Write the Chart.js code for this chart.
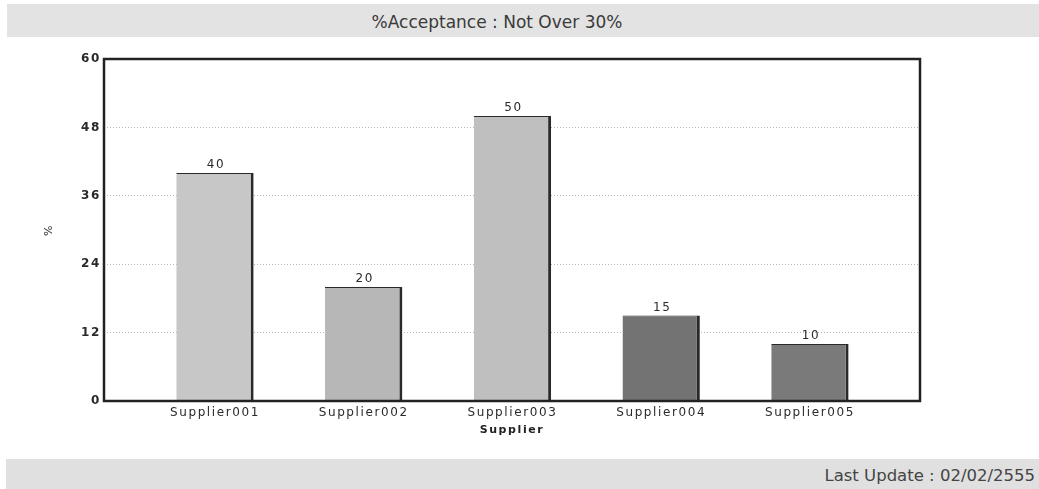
<!DOCTYPE html>
<html>
<head>
<meta charset="utf-8">
<title>%Acceptance : Not Over 30%</title>
<script src="https://cdn.jsdelivr.net/npm/chart.js@4.4.1/dist/chart.umd.min.js"></script>
<style>
  html, body { margin: 0; padding: 0; background: #ffffff; }
  #wrap { position: relative; width: 1039px; height: 489px; overflow: hidden; }
  .band { position: absolute; background: #e3e3e3; }
  #head { left: 7px; top: 4px; right: 0; height: 33px; }
  #foot { left: 6px; top: 459px; right: 0; bottom: 0; background: #e0e0e0; }
  #headText {
    position: absolute; left: 7px; right: 0; top: 4px; height: 33px;
    line-height: 36px; text-align: center; padding-right: 52px;
    font-family: "DejaVu Sans", sans-serif;
    font-size: 17px; color: #3a3a3a;
  }
  #footText {
    position: absolute; right: 4px; top: 459px; height: 30px; line-height: 34px;
    font-family: "DejaVu Sans", sans-serif; font-size: 16.5px; color: #444;
  }
  canvas { position: absolute; left: 0; top: 0; }
</style>
</head>
<body>
<div id="wrap">
  <div class="band" id="head"></div>
  <div class="band" id="foot"></div>
  <div id="headText">%Acceptance : Not Over 30%</div>
  <div id="footText">Last Update : 02/02/2555</div>
  <canvas id="chart" width="1039" height="489"></canvas>
</div>
<script>
// Suppliers and their acceptance percentages
const categories = ['Supplier001', 'Supplier002', 'Supplier003', 'Supplier004', 'Supplier005'];
const acceptance = [40, 20, 50, 15, 10];
const yTicks = [0, 12, 24, 36, 48, 60];
const barColors = ['#c7c7c7', '#b7b7b7', '#bfbfbf', '#737373', '#7a7a7a'];

const xTitle = 'Supplier';
const yTitle = '%';

const LETTER_SPACING = '1.6px';
const TEXT = '#2a2a2a';

// wide, Verdana-like lettering for everything on the canvas
const spacingPlugin = {
  id: 'spacing',
  beforeUpdate(chart) { chart.ctx.letterSpacing = LETTER_SPACING; },
  beforeDraw(chart) { chart.ctx.letterSpacing = LETTER_SPACING; }
};

// dark frame round the plot area
const framePlugin = {
  id: 'frame',
  afterDatasetsDraw(chart) {
    const { ctx, chartArea: a } = chart;
    ctx.save();
    ctx.strokeStyle = '#222';
    ctx.lineWidth = 2.5;
    ctx.strokeRect(a.left, a.top, a.right - a.left, a.bottom - a.top);
    ctx.restore();
  }
};

// value written above each bar
const valueLabels = {
  id: 'valueLabels',
  afterDatasetsDraw(chart) {
    const { ctx } = chart;
    const meta = chart.getDatasetMeta(0);
    const data = chart.data.datasets[0].data;
    ctx.save();
    ctx.letterSpacing = LETTER_SPACING;
    ctx.font = '12px "DejaVu Sans", sans-serif';
    ctx.fillStyle = TEXT;
    ctx.textAlign = 'center';
    ctx.textBaseline = 'bottom';
    meta.data.forEach((bar, i) => {
      ctx.fillText(String(data[i].y), bar.x + 1, bar.y - 2);
    });
    ctx.restore();
  }
};

new Chart(document.getElementById('chart'), {
  type: 'bar',
  data: {
    datasets: [{
      data: categories.map((c, i) => ({ x: i + 1, y: acceptance[i] })),
      backgroundColor: barColors,
      borderColor: '#2a2a2a',
      borderWidth: { top: 1, right: 3, left: 0, bottom: 0 },
      borderSkipped: false,
      barPercentage: 0.52,
      categoryPercentage: 1
    }]
  },
  options: {
    responsive: false,
    animation: false,
    devicePixelRatio: 1,
    layout: { padding: { left: 0, top: 59, right: 119, bottom: 0 } },
    plugins: {
      legend: { display: false },
      title: { display: false },
      tooltip: { enabled: false }
    },
    scales: {
      x: {
        type: 'linear',
        offset: false,
        min: 0.254,
        max: 5.74,
        afterFit(scale) { scale.height = 88; },
        afterBuildTicks(scale) {
          scale.ticks = categories.map((c, i) => ({ value: i + 1 }));
        },
        grid: { display: false, drawTicks: false },
        border: { display: false },
        ticks: {
          autoSkip: false,
          maxRotation: 0,
          padding: 5,
          color: TEXT,
          font: { family: '"DejaVu Sans", sans-serif', size: 12 },
          callback: (v) => categories[v - 1]
        },
        title: {
          display: true,
          text: xTitle,
          color: '#222',
          font: { family: '"DejaVu Sans", sans-serif', size: 11, weight: 'bold' },
          padding: { top: 0, bottom: 52 }
        }
      },
      y: {
        min: yTicks[0],
        max: yTicks[yTicks.length - 1],
        afterFit(scale) { scale.width = 104; },
        afterBuildTicks(scale) {
          scale.ticks = yTicks.map(v => ({ value: v }));
        },
        grid: {
          drawTicks: false,
          color: (c) => (c.tick && (c.tick.value === 0 || c.tick.value === 60)) ? 'rgba(0,0,0,0)' : '#b5b5b5',
          lineWidth: 1
        },
        border: { display: false, dash: [1, 2] },
        ticks: {
          padding: 3,
          color: TEXT,
          font: { family: '"DejaVu Sans", sans-serif', size: 12, weight: 'bold' }
        },
        title: {
          display: true,
          text: yTitle,
          color: TEXT,
          font: { family: '"DejaVu Sans", sans-serif', size: 11 },
          padding: { top: 43, bottom: 0 }
        }
      }
    }
  },
  plugins: [spacingPlugin, framePlugin, valueLabels]
});
</script>
</body>
</html>
